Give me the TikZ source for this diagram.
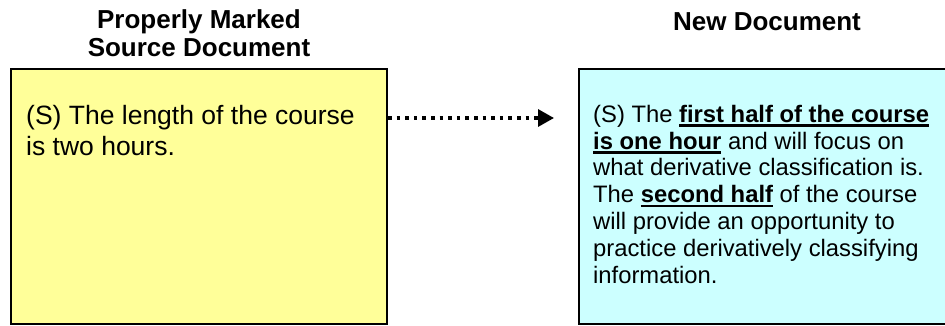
\documentclass[tikz,border=0pt]{standalone}
\usepackage{fontspec}
\setmainfont{Liberation Sans}
\usetikzlibrary{arrows.meta}
\definecolor{srcfill}{RGB}{255,255,153}
\definecolor{newfill}{RGB}{204,255,255}
% bold text with a heavy rule underneath
\newcommand\ulb[1]{\leavevmode\setbox0\hbox{\bfseries #1}\rlap{\rule[-4.5pt]{\wd0}{2.4pt}}\box0\relax}
\tikzset{
  docbox/.style={draw=black, line width=2pt, inner sep=0pt},
  heading/.style={inner sep=0pt, anchor=base, font=\bfseries\fontsize{26}{27}\selectfont},
  bodytext/.style={inner sep=0pt, anchor=base west},
  dotarrow/.style={line width=3.3pt, dash pattern=on 3.6pt off 5pt,
    -{Triangle[length=16pt,width=17pt]}}
}
\begin{document}
\begin{tikzpicture}[x=1pt,y=-1pt]
\useasboundingbox (0,0) rectangle (945,325);
% document boxes
\node[docbox, fill=srcfill, minimum width=376pt, minimum height=255pt] (src) at (199,196.5) {};
\node[docbox, fill=newfill, minimum width=380pt, minimum height=255pt] (new) at (769,196.5) {};
% headings
\node[heading] (srctitle) at (199,28.5)
  {\parbox[t]{320pt}{\centering\fontsize{26}{27.5}\selectfont Properly Marked\\Source Document}};
\node[heading] (newtitle) at (767,30) {New Document};
% body texts
\node[bodytext] (srctext) at (26,124)
  {\parbox[t]{360pt}{\raggedright\fontsize{26.5}{31}\selectfont
   (S) The length of the course\\is two hours.}};
\node[bodytext] (newtext) at (593,122.2)
  {\parbox[t]{350pt}{\raggedright\fontsize{23.8}{26.8}\selectfont
   (S) The \ulb{first half of the course}\\
   \ulb{is one hour} and will focus on\\
   what derivative classification is.\\
   The \ulb{second half} of the course\\
   will provide an opportunity to\\
   practice derivatively classifying\\
   information.}};
% dotted connector
\coordinate (tip) at (554,118);
\draw[dotarrow] (src.east |- tip) -- (tip);
\end{tikzpicture}
\end{document}
